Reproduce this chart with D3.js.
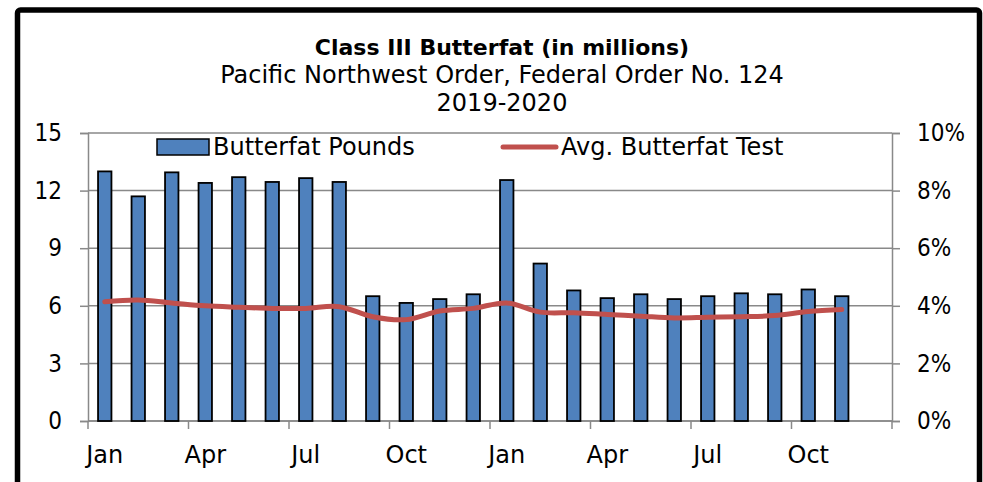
<!DOCTYPE html>
<html>
<head>
<meta charset="utf-8">
<script src="https://d3js.org/d3.v7.min.js"></script>
<style>
    body { margin: 0; background: #fff; }
    text { font-family: "DejaVu Sans", sans-serif; fill: #000; }
</style>
</head>
<body>
<script>
    // months Jan 2019 .. Dec 2020 (Dec 2020 has no data)
    const months = ["Jan","Feb","Mar","Apr","May","Jun","Jul","Aug","Sep","Oct","Nov","Dec",
                    "Jan","Feb","Mar","Apr","May","Jun","Jul","Aug","Sep","Oct","Nov","Dec"];
    const pounds = [13.0, 11.7, 12.95, 12.4, 12.7, 12.45, 12.65, 12.45, 6.5, 6.15, 6.35, 6.6,
                    12.55, 8.2, 6.8, 6.4, 6.6, 6.35, 6.5, 6.65, 6.6, 6.85, 6.5];
    const testPct = [4.14, 4.2, 4.1, 4.0, 3.95, 3.91, 3.91, 3.97, 3.62, 3.52, 3.82, 3.91,
                     4.1, 3.78, 3.76, 3.7, 3.64, 3.58, 3.6, 3.62, 3.66, 3.8, 3.87];
    const leftTicks = [0, 3, 6, 9, 12, 15];
    const rightTicks = [0, 2, 4, 6, 8, 10];
    const titleLines = ["Class III Butterfat (in millions)",
                        "Pacific Northwest Order, Federal Order No. 124",
                        "2019-2020"];
    const legendNames = ["Butterfat Pounds", "Avg. Butterfat Test"];

    let W = 983, H = 482;
    let plot = {left: 88, right: 892, top: 133, bottom: 421};
    const condensed = "DejaVu Sans Condensed";

    let svg = d3.select("body").append("svg")
        .attr("width", W).attr("height", H);

    // outer frame
    svg.append("rect")
        .attr("x", 17.5).attr("y", 10).attr("width", 962).attr("height", 500)
        .attr("rx", 3)
        .attr("fill", "#fff").attr("stroke", "#000").attr("stroke-width", 5.5);

    let idx = months.map((m, i) => i);
    let x = d3.scaleBand().domain(idx).range([plot.left, plot.right])
        .paddingInner(0.6).paddingOuter(0.3);
    let yL = d3.scaleLinear().domain([0, 15]).range([plot.bottom, plot.top]);
    let yR = d3.scaleLinear().domain([0, 10]).range([plot.bottom, plot.top]);

    const grid = "#898989";

    // gridlines
    svg.append("g").selectAll("line").data(leftTicks).join("line")
        .attr("x1", plot.left).attr("x2", plot.right)
        .attr("y1", d => yL(d)).attr("y2", d => yL(d))
        .attr("stroke", grid).attr("stroke-width", 1.5);

    // left axis
    let gL = svg.append("g").attr("transform", `translate(${plot.left},0)`)
        .call(d3.axisLeft(yL).tickValues(leftTicks).tickSize(8).tickPadding(18));
    // right axis
    let gR = svg.append("g").attr("transform", `translate(${plot.right},0)`)
        .call(d3.axisRight(yR).tickValues(rightTicks).tickSize(8).tickPadding(17)
            .tickFormat(d => d + "%"));
    // x axis: ticks at every 3rd band boundary, labels centred on band
    let step = x.step();
    let boundaries = d3.range(0, 25, 3);
    let gX = svg.append("g");
    gX.append("line")
        .attr("x1", plot.left).attr("x2", plot.right)
        .attr("y1", plot.bottom).attr("y2", plot.bottom)
        .attr("stroke", grid).attr("stroke-width", 1.5);
    gX.selectAll("line.tk").data(boundaries).join("line").attr("class", "tk")
        .attr("x1", d => plot.left + d * step).attr("x2", d => plot.left + d * step)
        .attr("y1", plot.bottom).attr("y2", plot.bottom + 8)
        .attr("stroke", grid).attr("stroke-width", 1.5);
    gX.selectAll("text").data(idx.filter(i => i % 3 === 0)).join("text")
        .attr("x", d => x(d) + x.bandwidth() / 2)
        .attr("y", 463)
        .attr("text-anchor", "middle")
        .attr("font-size", 24)
        .text(d => months[d]);

    [gL, gR].forEach(g => {
        g.select(".domain").attr("stroke", grid).attr("stroke-width", 1.5);
        g.selectAll(".tick line").attr("stroke", grid).attr("stroke-width", 1.5);
        g.selectAll(".tick text").attr("font-size", 24)
            .attr("font-family", null).style("font-family", condensed);
    });

    // bars
    svg.append("g").selectAll("rect").data(pounds).join("rect")
        .attr("x", (d, i) => x(i))
        .attr("y", d => yL(d))
        .attr("width", x.bandwidth())
        .attr("height", d => yL(0) - yL(d))
        .attr("fill", "#4F81BD")
        .attr("stroke", "#000").attr("stroke-width", 1.8);

    // smoothed line
    let line = d3.line()
        .x((d, i) => x(i) + x.bandwidth() / 2)
        .y(d => yR(d))
        .curve(d3.curveCatmullRom.alpha(0));
    svg.append("path").datum(testPct)
        .attr("d", line)
        .attr("fill", "none").attr("stroke", "#C0504D")
        .attr("stroke-width", 5).attr("stroke-linecap", "round");

    // legend
    let lg = svg.append("g");
    lg.append("rect").attr("x", 157).attr("y", 139).attr("width", 52).attr("height", 16)
        .attr("fill", "#4F81BD").attr("stroke", "#000").attr("stroke-width", 1.5);
    lg.append("text").attr("x", 213).attr("y", 155).attr("font-size", 24).text(legendNames[0]);
    lg.append("line").attr("x1", 503).attr("x2", 556).attr("y1", 147).attr("y2", 147)
        .attr("stroke", "#C0504D").attr("stroke-width", 5).attr("stroke-linecap", "round");
    lg.append("text").attr("x", 561).attr("y", 155).attr("font-size", 24).text(legendNames[1]);

    // titles
    let tg = svg.append("g").attr("text-anchor", "middle");
    tg.append("text").attr("x", 502).attr("y", 55).attr("font-size", 22)
        .attr("font-weight", "bold").text(titleLines[0]);
    tg.append("text").attr("x", 502).attr("y", 83).attr("font-size", 24).text(titleLines[1]);
    tg.append("text").attr("x", 502).attr("y", 111).attr("font-size", 24).text(titleLines[2]);
</script>
</body>
</html>
